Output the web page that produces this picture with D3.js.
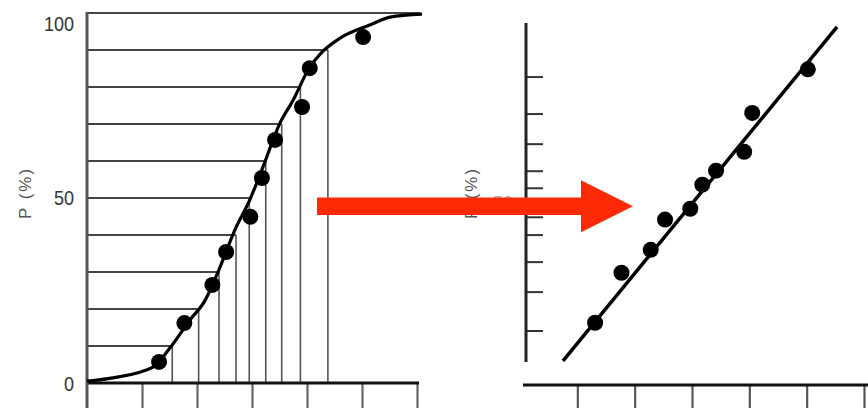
<!DOCTYPE html>
<html>
<head>
<meta charset="utf-8">
<script src="https://cdn.jsdelivr.net/npm/d3@7"></script>
<style>
  html, body { margin: 0; padding: 0; background: #fff; }
  svg { display: block; }
  .lbl { font-family: "Liberation Sans", Arial, sans-serif; font-size: 21px; fill: #333; }
  .title { font-family: "Liberation Sans", Arial, sans-serif; font-size: 17px; fill: #555; letter-spacing: 2px; }
</style>
</head>
<body>
<svg id="chart"></svg>
<script>
// measured values (x in axis units 0..6, P in %)
const dotX = [1.31, 1.77, 2.28, 2.53, 2.97, 3.18, 3.42, 3.91, 4.05, 5.02];
const dotPctCurve = [5.7, 16.2, 26.5, 35.4, 44.9, 55.4, 65.7, 74.6, 85.1, 93.5];
const dotPctProbit = [5.7, 16.6, 24.5, 37.4, 42.5, 54.2, 60.9, 69.4, 83.7, 93.5];

// fitted S-curve
const curveX = [0, 0.47, 1.2, 1.51, 1.87, 2.15, 2.36, 2.69, 2.96, 3.2, 3.51, 3.75, 4.02, 4.3, 4.6, 5.15, 5.51, 6.09];
const curveP = [0.5, 1.4, 4.3, 9.5, 17, 22.4, 29.2, 41.4, 49.5, 58.4, 70.3, 76.5, 84.6, 89.8, 93.2, 96.8, 98.9, 99.7];

// construction lines: level P and where it meets the curve
const levelP = [10, 20, 30, 40, 50, 60, 70, 80, 90, 100];
const levelX = [1.55, 2.03, 2.4, 2.71, 2.95, 3.25, 3.54, 3.88, 4.38, 6.05];

// straight fit on probability paper
const fitX = [0.75, 5.53];
const fitP = [2.04, 97.9];

const xTicks = [1, 2, 3, 4, 5, 6];
const yTicksLeft = [0, 50, 100];
const yTicksRight = [4.7, 11.5, 20.2, 30.7, 38.7, 52.7, 60.9, 72.8, 83.5, 92.3];

const W = 868, H = 408;
const svg = d3.select('#chart').attr('width', W).attr('height', H);

// inverse normal CDF (Abramowitz & Stegun 26.2.23)
function probit(p) {
  const q = p < 0.5 ? p : 1 - p;
  const t = Math.sqrt(-2 * Math.log(q));
  const z = t - (2.515517 + 0.802853 * t + 0.010328 * t * t) /
    (1 + 1.432788 * t + 0.189269 * t * t + 0.001308 * t * t * t);
  return p < 0.5 ? -z : z;
}

// squeeze tick labels, the scan uses a narrow face
function styleLabels(sel, fill) {
  sel.selectAll('.tick text')
    .attr('class', 'lbl')
    .attr('font-size', null).attr('font-family', null).attr('fill', null)
    .style('fill', fill)
    .attr('textLength', function() { return this.textContent.length * 10; })
    .attr('lengthAdjust', 'spacingAndGlyphs');
}

// ---- left panel: cumulative curve ----
const xL = d3.scaleLinear().domain([0, 6]).range([87, 417]);
const yL = d3.scaleLinear().domain([0, 100]).range([383, 13]);
const left = svg.append('g');

// horizontal lines from the axis to the curve
left.append('g').selectAll('line')
  .data(levelP)
  .enter().append('line')
  .attr('x1', xL(0))
  .attr('x2', (d, i) => xL(levelX[i]))
  .attr('y1', d => Math.round(yL(d)))
  .attr('y2', d => Math.round(yL(d)))
  .attr('stroke', '#444')
  .attr('stroke-width', 2);

// vertical lines from the curve down to the axis
left.append('g').selectAll('line')
  .data(levelP.slice(0, 9))
  .enter().append('line')
  .attr('x1', (d, i) => xL(levelX[i]))
  .attr('x2', (d, i) => xL(levelX[i]))
  .attr('y1', yL(0))
  .attr('y2', d => yL(d))
  .attr('stroke', '#555')
  .attr('stroke-width', 1.6);

// x axis with long ticks downward
const axL = left.append('g')
  .attr('transform', `translate(0,${yL(0)})`)
  .call(d3.axisBottom(xL).tickValues(xTicks).tickSize(26).tickFormat(''));
axL.select('.domain').remove();
axL.selectAll('.tick line').attr('stroke', '#666').attr('stroke-width', 2.2);
left.append('line')
  .attr('x1', xL(0) - 1).attr('x2', xL(6) + 2)
  .attr('y1', yL(0)).attr('y2', yL(0))
  .attr('stroke', '#111').attr('stroke-width', 3);

// y axis
left.append('line')
  .attr('x1', xL(0)).attr('x2', xL(0))
  .attr('y1', yL(100) - 1).attr('y2', H)
  .attr('stroke', '#555').attr('stroke-width', 3);
const ayL = left.append('g')
  .attr('transform', `translate(${xL(0)},0)`)
  .call(d3.axisLeft(yL).tickValues(yTicksLeft).tickSize(0).tickPadding(13));
ayL.select('.domain').remove();
styleLabels(ayL, '#333');
ayL.selectAll('.tick text')
  .attr('dy', d => d === 100 ? '0.85em' : d === 50 ? '0.3em' : '0.38em');

left.append('text')
  .attr('class', 'title')
  .attr('transform', 'translate(31,193) rotate(-90)')
  .attr('text-anchor', 'middle')
  .text('P (%)');

// fitted curve
const curveLine = d3.line()
  .x(d => xL(d[0]))
  .y(d => yL(d[1]))
  .curve(d3.curveMonotoneX);
left.append('path')
  .datum(d3.zip(curveX, curveP))
  .attr('d', curveLine)
  .attr('fill', 'none')
  .attr('stroke', '#000')
  .attr('stroke-width', 3.2);

left.append('g').selectAll('circle')
  .data(d3.zip(dotX, dotPctCurve))
  .enter().append('circle')
  .attr('cx', d => xL(d[0]))
  .attr('cy', d => yL(d[1]))
  .attr('r', 8)
  .attr('fill', '#000');

// ---- right panel: probability paper ----
const xR = d3.scaleLinear().domain([0, 6]).range([520, 864]);
const yR = d3.scaleLinear().domain([-2.06, 2.08]).range([362, 23]); // in z units
const right = svg.append('g');

const axR = right.append('g')
  .attr('transform', `translate(0,385)`)
  .call(d3.axisBottom(xR).tickValues(xTicks).tickSize(26).tickFormat(''));
axR.select('.domain').remove();
axR.selectAll('.tick line').attr('stroke', '#555').attr('stroke-width', 2.2);
right.append('line')
  .attr('x1', 523).attr('x2', W)
  .attr('y1', 385).attr('y2', 385)
  .attr('stroke', '#111').attr('stroke-width', 3);

const ayR = right.append('g')
  .attr('transform', `translate(526,0)`)
  .call(d3.axisRight(yR).tickValues(yTicksRight.map(p => probit(p / 100))).tickSize(17).tickFormat(''));
ayR.select('.domain').remove();
ayR.selectAll('.tick line').attr('stroke', '#333').attr('stroke-width', 2);
right.append('line')
  .attr('x1', 526).attr('x2', 526)
  .attr('y1', yR.range()[1]).attr('y2', yR.range()[0])
  .attr('stroke', '#222').attr('stroke-width', 3);

// "50" label, mostly hidden behind the arrow
const ayR2 = right.append('g')
  .attr('transform', `translate(526,0)`)
  .call(d3.axisLeft(yR).tickValues([probit(0.5)]).tickSize(0).tickPadding(13).tickFormat(() => '50'));
ayR2.select('.domain').remove();
styleLabels(ayR2, '#aaa');
ayR2.selectAll('.tick text').attr('dy', '0.78em');

right.append('text')
  .attr('class', 'title')
  .attr('transform', 'translate(477,193) rotate(-90)')
  .attr('text-anchor', 'middle')
  .text('P (%)');

const fitLine = d3.line()
  .x(d => xR(d[0]))
  .y(d => yR(probit(d[1] / 100)));
right.append('path')
  .datum(d3.zip(fitX, fitP))
  .attr('d', fitLine)
  .attr('fill', 'none')
  .attr('stroke', '#000')
  .attr('stroke-width', 3.5);

right.append('g').selectAll('circle')
  .data(d3.zip(dotX, dotPctProbit))
  .enter().append('circle')
  .attr('cx', d => xR(d[0]))
  .attr('cy', d => yR(probit(d[1] / 100)))
  .attr('r', 8)
  .attr('fill', '#000');

// ---- red arrow between the panels ----
const arrow = { x0: 317, x1: 581, tip: 633, yc: 206.3, shaft: 17.5, head: 52 };
const sh = arrow.shaft / 2, hh = arrow.head / 2;
svg.append('path')
  .attr('d', d3.line()([
    [arrow.x0, arrow.yc - sh], [arrow.x1, arrow.yc - sh], [arrow.x1, arrow.yc - hh],
    [arrow.tip, arrow.yc], [arrow.x1, arrow.yc + hh], [arrow.x1, arrow.yc + sh],
    [arrow.x0, arrow.yc + sh]
  ]) + 'Z')
  .attr('fill', '#fc2a04');
</script>
</body>
</html>
